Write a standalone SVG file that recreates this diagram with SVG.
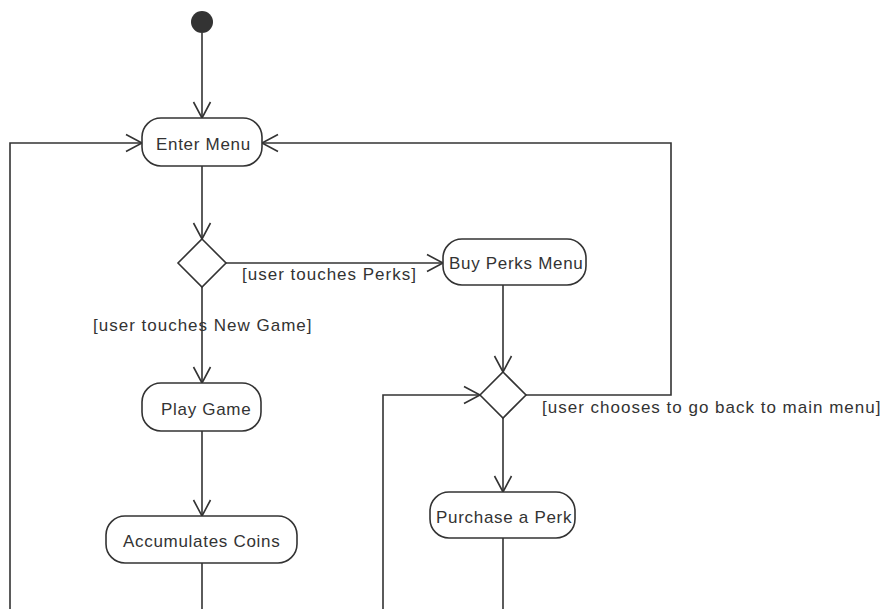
<svg xmlns="http://www.w3.org/2000/svg" width="886" height="609" viewBox="0 0 886 609">
<style>
.node{fill:#fff;stroke:#333;stroke-width:1.6}
.edge{fill:none;stroke:#333;stroke-width:1.6}
text{font-family:"Liberation Sans",Arial,sans-serif;font-size:17px;fill:#333;letter-spacing:1px}
.nt{letter-spacing:0.7px}
</style>
<defs>
<marker id="arr" markerUnits="userSpaceOnUse" viewBox="-17 -10 19 20" refX="0" refY="0" markerWidth="19" markerHeight="20" orient="auto">
<path d="M-16,-8.5 L0,0 L-16,8.5" fill="none" stroke="#333" stroke-width="1.6"/>
</marker>
</defs>
<rect width="886" height="609" fill="#fff"/>
<g id="connectors">
<path class="edge" d="M202,33 V118" marker-end="url(#arr)"/>
<path class="edge" d="M202,166 V239" marker-end="url(#arr)"/>
<path class="edge" d="M226,263 H443" marker-end="url(#arr)"/>
<path class="edge" d="M202,287 V383" marker-end="url(#arr)"/>
<path class="edge" d="M202,431 V516" marker-end="url(#arr)"/>
<path class="edge" d="M202,563 V609"/>
<path class="edge" d="M10,609 V143 H142" marker-end="url(#arr)"/>
<path class="edge" d="M503,284 V372" marker-end="url(#arr)"/>
<path class="edge" d="M526,395 H671 V143 H262" marker-end="url(#arr)"/>
<path class="edge" d="M383,609 V395 H480" marker-end="url(#arr)"/>
<path class="edge" d="M503,418 V492" marker-end="url(#arr)"/>
<path class="edge" d="M503,538 V609"/>
<text x="242" y="280">[user touches Perks]</text>
<text x="93" y="331">[user touches New Game]</text>
<text x="542" y="413">[user chooses to go back to main menu]</text>
</g>
<g id="start"><circle cx="202" cy="22" r="11" fill="#333"/></g>
<g id="enterMenu"><rect class="node" x="142" y="118" width="120" height="48" rx="19"/><text class="nt" x="156" y="150">Enter Menu</text></g>
<g id="decision1"><path class="node" d="M202,239 L226,263 L202,287 L178,263 Z"/></g>
<g id="buyPerks"><rect class="node" x="443" y="239" width="143" height="46" rx="19"/><text class="nt" x="449" y="269">Buy Perks Menu</text></g>
<g id="decision2"><path class="node" d="M503,372 L526,395 L503,418 L480,395 Z"/></g>
<g id="playGame"><rect class="node" x="142" y="383" width="119" height="48" rx="19"/><text class="nt" x="161" y="415">Play Game</text></g>
<g id="accumulate"><rect class="node" x="106" y="516" width="191" height="47" rx="19"/><text class="nt" x="123" y="547">Accumulates Coins</text></g>
<g id="purchase"><rect class="node" x="430" y="492" width="145" height="46" rx="19"/><text class="nt" x="436" y="523">Purchase a Perk</text></g>
</svg>
